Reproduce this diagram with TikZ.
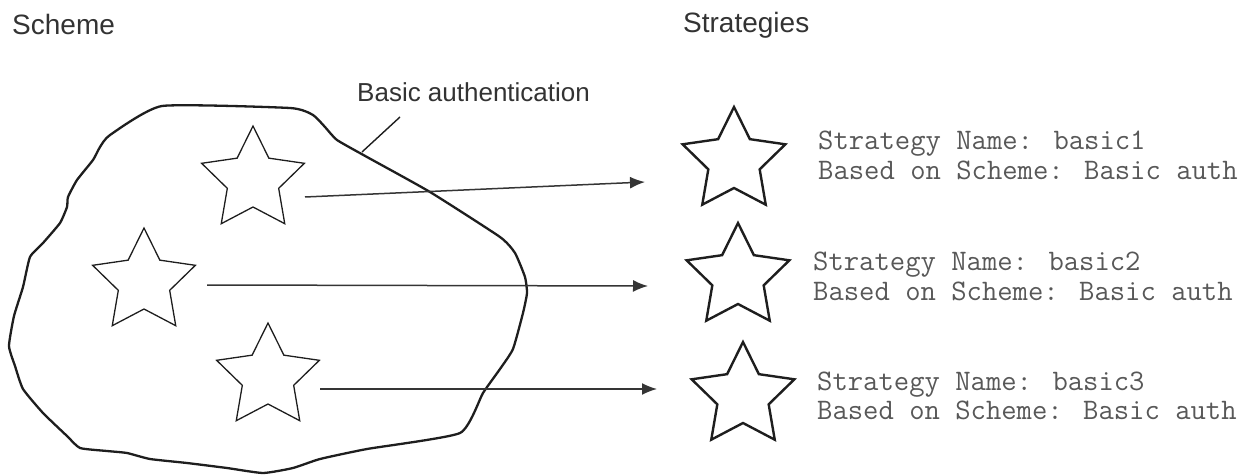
\documentclass[tikz,border=0pt]{standalone}
\usepackage{fontspec}
\setmainfont{Liberation Sans}
\usetikzlibrary{shapes.geometric,arrows.meta}
\definecolor{ink}{HTML}{1E1E1E}
\definecolor{txt}{HTML}{333333}
\definecolor{monotxt}{HTML}{585858}
\begin{document}
\begin{tikzpicture}[x=1pt,y=-1pt,
  starthin/.style={star,star points=5,star point ratio=2,minimum size=108pt,inner sep=0pt,draw=ink,line width=1.3pt},
  starthick/.style={starthin,line width=2.4pt},
  conn/.style={draw=ink!90,line width=1.5pt,-{Latex[length=15pt,width=12pt]}},
  blobline/.style={draw=ink,line width=2.3pt,line join=round},
  leader/.style={draw=ink,line width=1.4pt},
  title/.style={font=\fontsize{28}{32}\selectfont,text=txt,inner sep=0pt,anchor=base west},
  label/.style={font=\fontsize{26}{30}\selectfont,text=txt,inner sep=0pt,anchor=base west},
  monoline/.style={font=\ttfamily\fontsize{29.8}{30}\selectfont,text=monotxt,inner sep=0pt,anchor=base west}
]
\useasboundingbox (0,0) rectangle (1254,476);

% titles
\node[title] (scheme) at (12,35) {Scheme};
\node[title] (strategies) at (683,33) {Strategies};
\node[label] (basiclabel) at (357,102) {Basic authentication};

% blob
\draw[blobline] plot[smooth cycle, tension=0.3] coordinates {
(162,106) (290,108) (313,115) (325,127) (337,140) (367,157) (430,192) (500,237)
(515,253) (525,277) (527,293) (523,313) (513,349) (500,369) (483,393) (460,433)
(367,449) (320,459) (293,468) (263,473) (227,468) (187,463) (150,459) (127,453)
(107,451) (80,448) (67,436) (43,413) (23,389) (15,366) (9,346) (14,316)
(23,287) (30,257) (43,243) (60,223) (67,207) (68,197) (77,180) (93,160)
(100,147) (110,135)};

% leader line
\coordinate (leadlow) at (362,152);
\coordinate (leadhigh) at (400,117);
\draw[leader] (leadlow) -- (leadhigh);

% stars inside scheme
\node[starthin] (s1) at (253,180) {};
\node[starthin] (s2) at (144,282) {};
\node[starthin] (s3) at (268,377) {};

% strategy stars
\node[starthick] (r1) at (734,161) {};
\node[starthick] (r2) at (738,277) {};
\node[starthick] (r3) at (743,396) {};

% connectors
\coordinate (a1s) at (305,197); \coordinate (a1e) at (645,182);
\coordinate (a2s) at (207,285); \coordinate (a2e) at (648,286);
\coordinate (a3s) at (320,389); \coordinate (a3e) at (657,389);
\draw[conn] (a1s) -- (a1e);
\draw[conn] (a2s) -- (a2e);
\draw[conn] (a3s) -- (a3e);

% strategy texts
\node[monoline] (t1a) at (818,150) {Strategy Name: basic1};
\node[monoline] (t1b) at (818,180) {Based on Scheme: Basic auth};
\node[monoline] (t2a) at (813,270) {Strategy Name: basic2};
\node[monoline] (t2b) at (813,300) {Based on Scheme: Basic auth};
\node[monoline] (t3a) at (817,390) {Strategy Name: basic3};
\node[monoline] (t3b) at (817,419) {Based on Scheme: Basic auth};
\end{tikzpicture}
\end{document}
